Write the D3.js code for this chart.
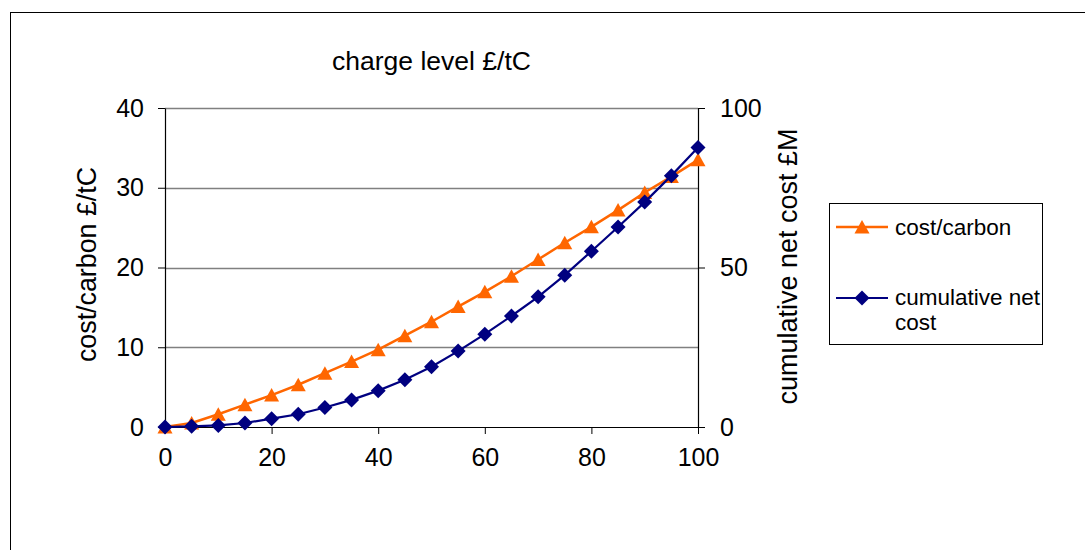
<!DOCTYPE html>
<html><head><meta charset="utf-8">
<script src="https://cdn.jsdelivr.net/npm/d3@7"></script>
<style>
html,body{margin:0;padding:0;background:#fff;}
svg{display:block;font-family:"Liberation Sans",Arial,sans-serif;}
</style></head>
<body><svg id="chart" width="1085" height="550"></svg>
<script>
const charge = [0,5,10,15,20,25,30,35,40,45,50,55,60,65,70,75,80,85,90,95,100];
const costCarbon = [0,0.5,1.6,2.8,4.0,5.3,6.75,8.2,9.7,11.45,13.2,15.1,16.95,18.9,21.0,23.1,25.1,27.2,29.4,31.4,33.5];
const cumulativeCost = [0,0.2,0.5,1.25,2.6,4.0,6.1,8.5,11.4,14.8,18.9,23.8,29.1,34.8,40.8,47.6,55.1,62.7,70.5,78.8,87.6];
const xTicks = [0,20,40,60,80,100];
const yLeftTicks = [0,10,20,30,40];
const yRightTicks = [0,50,100];
const seriesNames = ["cost/carbon","cumulative net cost"];
const titleText = "charge level £/tC";
const yLeftTitle = "cost/carbon £/tC";
const yRightTitle = "cumulative net cost £M";

const svg = d3.select("#chart");
const L = 165, R = 698, T = 108, B = 427;
const x = d3.scaleLinear().domain([0,100]).range([L,R]);
const yL = d3.scaleLinear().domain([0,40]).range([B,T]);
const yR = d3.scaleLinear().domain([0,100]).range([B,T]);

// outer border
svg.append("rect").attr("x",10.5).attr("y",12.5).attr("width",1200).attr("height",700)
  .attr("fill","none").attr("stroke","#000").attr("stroke-width",1);

// gridlines
svg.append("g").selectAll("line").data(yLeftTicks.filter(d=>d>0)).join("line")
  .attr("x1",L).attr("x2",R).attr("y1",d=>Math.round(yL(d))+0.5).attr("y2",d=>Math.round(yL(d))+0.5)
  .attr("stroke","#808080").attr("stroke-width",1.3);

// axes
const gx = svg.append("g").attr("transform",`translate(0,${B})`)
  .call(d3.axisBottom(x).tickValues(xTicks).tickSize(7).tickPadding(14).tickSizeOuter(0));
const gl = svg.append("g").attr("transform",`translate(${L},0)`)
  .call(d3.axisLeft(yL).tickValues(yLeftTicks).tickSize(7).tickPadding(14).tickSizeOuter(0));
const gr = svg.append("g").attr("transform",`translate(${R},0)`)
  .call(d3.axisRight(yR).tickValues(yRightTicks).tickSize(7).tickPadding(15).tickSizeOuter(0));
[gx,gl,gr].forEach(g=>{
  g.selectAll("path.domain").attr("stroke","#000").attr("stroke-width",1.2);
  g.selectAll(".tick line").attr("stroke","#000");
  g.selectAll("text").attr("font-size",25).attr("fill","#000").attr("font-family","Liberation Sans, Arial, sans-serif");
});
gx.selectAll("text").attr("dy","0.71em");

// lines
const lineL = d3.line().x((d,i)=>x(charge[i])).y(d=>yL(d));
const lineR = d3.line().x((d,i)=>x(charge[i])).y(d=>yR(d));
svg.append("path").datum(costCarbon).attr("d",lineL).attr("fill","none").attr("stroke","#FF6600").attr("stroke-width",2.5);
const tri = "M0,-7L7.5,6.5L-7.5,6.5Z";
const dia = "M0,-7.5L7.5,0L0,7.5L-7.5,0Z";
svg.append("g").selectAll("path").data(costCarbon).join("path")
  .attr("d",tri).attr("fill","#FF6600")
  .attr("transform",(d,i)=>`translate(${x(charge[i])},${yL(d)})`);
svg.append("path").datum(cumulativeCost).attr("d",lineR).attr("fill","none").attr("stroke","#000080").attr("stroke-width",2.2);
svg.append("g").selectAll("path").data(cumulativeCost).join("path")
  .attr("d",dia).attr("fill","#000080")
  .attr("transform",(d,i)=>`translate(${x(charge[i])},${yR(d)})`);

// titles
svg.append("text").attr("x",(L+R)/2).attr("y",70).attr("text-anchor","middle")
  .attr("font-size",26.5).text(titleText);
svg.append("text").attr("transform",`translate(96,${(T+B)/2-3}) rotate(-90)`).attr("text-anchor","middle")
  .attr("font-size",26.8).text(yLeftTitle);
svg.append("text").attr("transform",`translate(797,${(T+B)/2-1}) rotate(-90)`).attr("text-anchor","middle")
  .attr("font-size",27).text(yRightTitle);

// legend
const lg = svg.append("g");
lg.append("rect").attr("x",829.5).attr("y",203.5).attr("width",213).attr("height",141)
  .attr("fill","#fff").attr("stroke","#000").attr("stroke-width",1);
lg.append("line").attr("x1",836).attr("x2",888).attr("y1",227).attr("y2",227).attr("stroke","#FF6600").attr("stroke-width",2.5);
lg.append("path").attr("d",tri).attr("fill","#FF6600").attr("transform","translate(862,227)");
lg.append("text").attr("x",895).attr("y",234.5).attr("font-size",22.5).text(seriesNames[0]);
lg.append("line").attr("x1",836).attr("x2",888).attr("y1",298).attr("y2",298).attr("stroke","#000080").attr("stroke-width",2.2);
lg.append("path").attr("d",dia).attr("fill","#000080").attr("transform","translate(862,298)");
const t2 = lg.append("text").attr("x",895).attr("y",305).attr("font-size",22.5);
t2.append("tspan").attr("x",895).text("cumulative net");
t2.append("tspan").attr("x",895).attr("dy",25).text("cost");
</script></body></html>
